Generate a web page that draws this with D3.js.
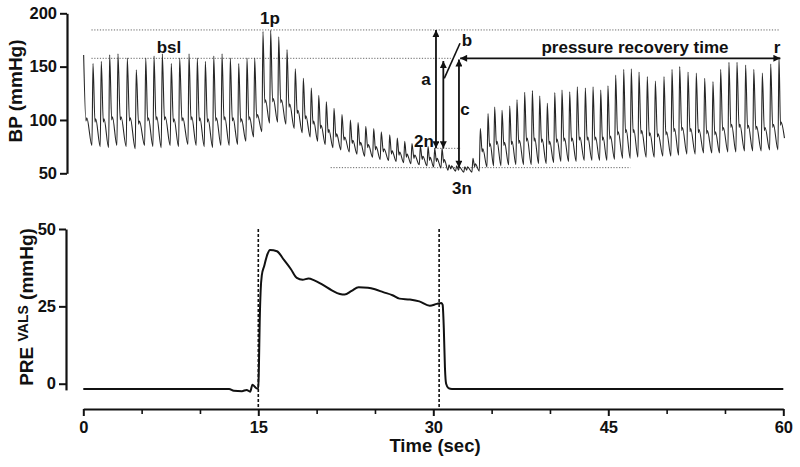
<!DOCTYPE html>
<html><head><meta charset="utf-8">
<script src="https://cdn.jsdelivr.net/npm/d3@7"></script>
<style>
html,body{margin:0;padding:0;background:#fff;}
svg{display:block;}
text{font-family:"Liberation Sans",Arial,sans-serif;font-weight:bold;fill:#111;}
</style></head>
<body>
<svg id="chart" width="800" height="467"></svg>
<script>
// ---- Data ----
// BP beats: peak time (s), systolic peak, dicrotic notch level, trough before upstroke (mmHg)
const beatTime = [0.03,0.83,1.54,2.26,2.97,3.77,4.54,5.35,6.06,6.77,7.54,8.26,9.06,9.77,10.46,11.18,11.89,12.60,13.32,14.03,
  14.69,15.40,16.06,16.75,17.46,18.17,18.86,19.54,20.18,20.83,21.49,22.17,22.89,23.55,24.21,24.89,25.54,26.26,26.91,27.55,
  28.17,28.89,29.55,30.12,30.75,31.35,32.0,32.7,33.4,34.03,34.69,35.26,35.89,36.55,37.17,37.83,38.49,39.12,39.77,40.41,
  41.03,41.69,42.34,43.03,43.69,44.35,44.97,45.63,46.32,46.97,47.63,48.34,49.03,49.77,50.46,51.12,51.83,52.54,53.26,53.97,
  54.63,55.34,56.03,56.77,57.47,58.2,58.92,59.63];
const systolic = [161,153,155,161,162,158,147,158,160,162,153,158,162,158,155,160,162,158,153,158,
  158,183,184,178,166,148,139,130,123,117,111,105,100,97.5,94,92,89,86,83,80,
  78,75.6,75,73.4,73.4,58,57,56,64,92,106,112,109,113,119,126,127.5,122.5,115.6,125.6,
  128,126.5,131,130,131,128,132,142,147.5,148,145,140.6,136.5,140.6,147.5,150,145,144,139,136,
  147.5,154,154,151.6,147.5,144,152.5,159];
const notch = [99,98,98,100,100,99,96,99,100,100,98,99,100,99,98,99,100,99,98,100,
  102,116,117,116,112,106,101,96,92,88,84,81,78,76,74,72,70,68,67,65,
  64,63,62,61,60,54,53,53,56,70,75,77,76,77,78,80,80,79,77,79,
  80,80,81,81,81,81,82,86,88,88,87,85,84,86,89,90,89,88,87,86,
  90,93,93,92,91,90,93,95];
const trough = [75,76,75,74,76,75,73,76,75,74,76,75,77,76,75,74,76,76,77,80,
  84,89,97,98,96,92,88,84,80,77,74,72,70,68,66,65,63,62,61,60,
  59,58,57,56,55,53,52,51,51,52,56,57,57,58,58,58,58,59,59,60,
  61,61,61,62,62,62,62,63,64,64,65,65,65,66,66,67,68,68,69,69,
  69,70,70,71,71,71,72,72];
const bpEnd = [60.1, 83];

// Valsalva pressure trace: [time s, mmHg]
const presTime = [0,12.5,12.9,13.6,14.0,14.3,14.5,14.7,14.85,15.0,15.05,15.12,15.2,15.3,15.5,15.8,16.0,16.6,17.2,17.8,
  18.3,18.8,19.3,19.8,20.5,21.3,22.0,22.4,23.0,23.6,24.4,25.0,25.7,26.5,27.1,28.0,28.8,29.7,30.3,30.7,
  30.8,30.9,31.0,31.1,31.3,31.6,60];
const presValue = [-1.7,-1.7,-2.3,-2.4,-2.0,-2.6,-0.3,-1.0,-1.5,-1.6,5,20,30,35,38,42,43.2,42.8,40,37,
  34.2,33.6,34,33.4,32,30.2,29,28.8,30,31.2,31,30.5,29.6,28.6,27.5,27.2,26.6,25.2,25.8,26.1,
  25.5,18,5,0,-1.4,-1.7,-1.7];

const xTicks = [0,15,30,45,60];
const xMinorTicks = [5,10,20,25,35,40,50,55];
const bpTicks = [50,100,150,200];
const presTicks = [0,25,50];
const valsalvaMarks = [15, 30.5];

// reference levels (mmHg)
const levelPeak = 184.4, levelBsl = 157.8, level2n = 73.4, level3n = 55.3;

// ---- Drawing ----
const svg = d3.select("#chart");
const x = d3.scaleLinear().domain([0,60]).range([83.3,783.3]);
const yBP = d3.scaleLinear().domain([50,200]).range([173.3,13.3]);
const yP = d3.scaleLinear().domain([-2,50]).range([389.9,229]);
const xAxisY = 409;

const defs = svg.append("defs");
defs.append("marker").attr("id","arr").attr("viewBox","0 0 10 10")
  .attr("refX",10).attr("refY",5).attr("markerWidth",9).attr("markerHeight",7)
  .attr("markerUnits","userSpaceOnUse").attr("orient","auto-start-reverse")
  .append("path").attr("d","M0,0L10,5L0,10z").attr("fill","#111");

// BP waveform points
const upstroke = 0.09, bump = 3;
const bpPts = [];
for (let i = 0; i < beatTime.length; i++) {
  const tp = beatTime[i];
  const tEnd = i < beatTime.length - 1 ? beatTime[i+1] - upstroke : bpEnd[0];
  if (i > 0) bpPts.push([tp - upstroke, trough[i]]);
  bpPts.push([tp, systolic[i]]);
  const span = tEnd - tp;
  bpPts.push([tp + 0.28*span, notch[i]]);
  bpPts.push([tp + 0.38*span, notch[i] + bump]);
}
bpPts.push(bpEnd);

function hline(t0,t1,v,scale){
  svg.append("line").attr("x1",x(t0)).attr("x2",x(t1)).attr("y1",scale(v)).attr("y2",scale(v))
    .attr("stroke","#555").attr("stroke-width",0.9).attr("stroke-dasharray","1.2,1.6");
}
hline(0.7,59.7,levelPeak,yBP);
hline(0.7,31.5,levelBsl,yBP);
hline(30.1,32.3,level2n,yBP);
hline(21.2,46.9,level3n,yBP);

svg.append("path").datum(bpPts)
  .attr("fill","none").attr("stroke","#262626").attr("stroke-width",1.1)
  .attr("d", d3.line().x(d=>x(d[0])).y(d=>yBP(d[1])).curve(d3.curveMonotoneX));

function arrow(x1,y1,x2,y2,both){
  const l = svg.append("line").attr("x1",x1).attr("y1",y1).attr("x2",x2).attr("y2",y2)
    .attr("stroke","#111").attr("stroke-width",1.8).attr("marker-end","url(#arr)");
  if (both) l.attr("marker-start","url(#arr)");
}
arrow(x(30.23), yBP(levelPeak), x(30.23), yBP(level2n), true);
arrow(x(30.86), yBP(155.3), x(30.86), yBP(level2n), true);
arrow(x(32.2), yBP(levelBsl-1), x(32.2), yBP(level3n), true);
arrow(x(32.3), yBP(levelBsl), x(59.75), yBP(levelBsl), true);
svg.append("line").attr("x1",x(30.94)).attr("y1",yBP(139)).attr("x2",x(32.29)).attr("y2",yBP(171.9))
  .attr("stroke","#111").attr("stroke-width",1.6);

const labels = [
  ["1p",270,24],["bsl",169,53],["a",426,85],["b",467,46],["c",465,115],
  ["2n",424,146.5],["3n",462,194],["pressure recovery time",635,53],["r",777,53]
];
labels.forEach(([t,lx,ly])=>{
  svg.append("text").attr("x",lx).attr("y",ly).attr("text-anchor","middle")
    .attr("font-size",17).text(t);
});

const gBP = svg.append("g").attr("transform","translate(67,0)")
  .call(d3.axisLeft(yBP).tickValues(bpTicks).tickSize(7).tickSizeOuter(0).tickPadding(3));
gBP.select(".domain").attr("stroke","#111").attr("stroke-width",2.2);
gBP.selectAll(".tick line").attr("stroke","#111").attr("stroke-width",2);
gBP.selectAll(".tick text").attr("font-size",16.5).attr("font-family","Liberation Sans, Arial, sans-serif")
  .attr("font-weight","bold").attr("fill","#111");

svg.append("text").attr("transform","translate(22,91) rotate(-90)").attr("text-anchor","middle")
  .attr("font-size",19).text("BP (mmHg)");

valsalvaMarks.forEach(t=>{
  svg.append("line").attr("x1",x(t)).attr("x2",x(t)).attr("y1",yP(50)).attr("y2",xAxisY)
    .attr("stroke","#111").attr("stroke-width",1.6).attr("stroke-dasharray","3,2");
});

svg.append("path").datum(presTime.map((t,i)=>[t,presValue[i]]))
  .attr("fill","none").attr("stroke","#111").attr("stroke-width",2).attr("stroke-linejoin","round")
  .attr("d", d3.line().x(d=>x(d[0])).y(d=>yP(d[1])).curve(d3.curveMonotoneX));

const gP = svg.append("g").attr("transform","translate(66,0)")
  .call(d3.axisLeft(yP).tickValues(presTicks).tickSize(7).tickSizeOuter(0).tickPadding(3));
gP.select(".domain").attr("stroke","#111").attr("stroke-width",2.2);
gP.selectAll(".tick line").attr("stroke","#111").attr("stroke-width",2);
gP.selectAll(".tick text").attr("font-size",16.5).attr("font-family","Liberation Sans, Arial, sans-serif")
  .attr("font-weight","bold").attr("fill","#111");

const pt = svg.append("text").attr("transform","translate(33,307) rotate(-90)").attr("text-anchor","middle")
  .attr("font-size",19);
pt.append("tspan").text("PRE ");
pt.append("tspan").attr("font-size",14).attr("dy",-5).text("VALS");
pt.append("tspan").attr("dy",5).text(" (mmHg)");

const gX = svg.append("g").attr("transform",`translate(0,${xAxisY})`)
  .call(d3.axisBottom(x).tickValues(xTicks).tickSize(7).tickSizeOuter(0).tickPadding(5));
gX.select(".domain").attr("stroke","#111").attr("stroke-width",2.2);
gX.selectAll(".tick line").attr("stroke","#111").attr("stroke-width",2);
gX.selectAll(".tick text").attr("font-size",16.5).attr("font-family","Liberation Sans, Arial, sans-serif")
  .attr("font-weight","bold").attr("fill","#111");
const gXm = svg.append("g").attr("transform",`translate(0,${xAxisY})`)
  .call(d3.axisBottom(x).tickValues(xMinorTicks).tickSize(5).tickFormat(""));
gXm.select(".domain").remove();
gXm.selectAll(".tick line").attr("stroke","#111").attr("stroke-width",1.6);

svg.append("text").attr("x",435).attr("y",452).attr("text-anchor","middle")
  .attr("font-size",18.5).text("Time (sec)");
</script>
</body></html>
